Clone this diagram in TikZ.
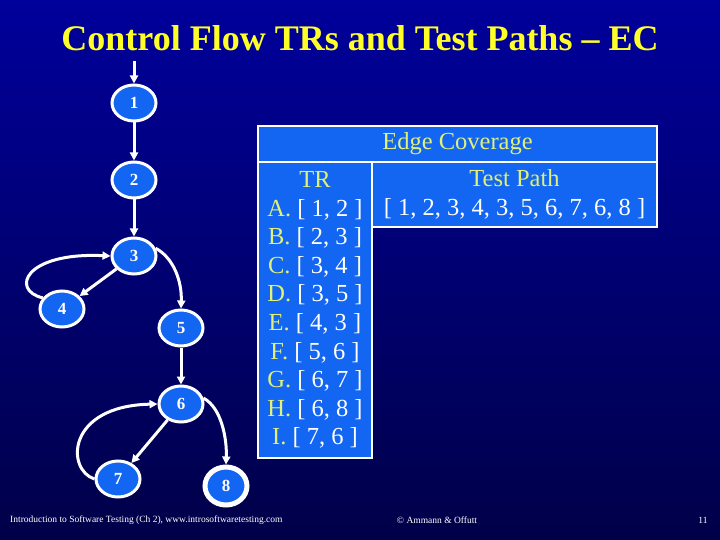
\documentclass[tikz,border=0pt]{standalone}
\usepackage{fontspec}
\setmainfont{Liberation Serif}
\usetikzlibrary{shapes.geometric,arrows.meta}
\definecolor{slidetop}{RGB}{0,0,155}
\definecolor{slidebot}{RGB}{0,0,72}
\definecolor{nodeblue}{RGB}{18,102,242}
\definecolor{titleyellow}{RGB}{255,255,40}
\definecolor{lblyellow}{RGB}{224,240,120}
\begin{document}
\begin{tikzpicture}[x=1pt, y=-1pt,
  vert/.style={ellipse, draw=white, line width=3pt, fill=nodeblue, text=white,
    minimum width=44pt, minimum height=36pt, inner sep=0pt, font=\fontsize{17}{17}\selectfont\bfseries},
  final/.style={vert, line width=5pt, minimum width=42pt, minimum height=38pt},
  edge/.style={white, line width=3pt, -{Triangle[length=8pt,width=8pt]}},
  cell/.style={rectangle, draw=white, line width=2.5pt, fill=nodeblue, text=white, inner sep=0pt,
    align=center, font=\fontsize{24.5}{28.6}\selectfont},
  foot/.style={text=white, inner sep=0pt, font=\fontsize{9.5}{9.5}\selectfont}]
\useasboundingbox (0,0) rectangle (720,540);
\shade[top color=slidetop, bottom color=slidebot] (0,0) rectangle (720,540);
\node[text=titleyellow, font=\fontsize{36}{36}\selectfont\bfseries] (title) at (360,38) {Control Flow TRs and Test Paths -- EC};
\node[vert] (n1) at (134,103) {1};
\node[vert] (n2) at (134,180) {2};
\node[vert] (n3) at (134,256) {3};
\node[vert] (n4) at (62,309) {4};
\node[vert] (n5) at (181,328) {5};
\node[vert] (n6) at (181,404) {6};
\node[vert] (n7) at (118,479) {7};
\node[final] (n8) at (226,486) {8};
\coordinate (start) at (134,61);
\draw[edge] (start) -- (n1);
\draw[edge] (n1) -- (n2);
\draw[edge] (n2) -- (n3);
\draw[edge] (n3) -- (n4);
\draw[edge] (n4.150) .. controls (10,290) and (25,252) .. (n3.west);
\draw[edge] (n3.20) .. controls (174,258) and (182,282) .. (n5.north);
\draw[edge] (n5) -- (n6);
\draw[edge] (n6) -- (n7);
\draw[edge] (n7.west) .. controls (66,470) and (66,406) .. (n6.west);
\draw[edge] (n6.15) .. controls (222,408) and (227,440) .. (n8.north);
\node[cell, minimum width=399pt, minimum height=36pt, text=lblyellow] (ec) at (457.5,144) {Edge Coverage};
\node[cell, minimum width=114pt, minimum height=296pt] (tr) at (315,310) {%
  \textcolor{lblyellow}{TR}\\
  \textcolor{lblyellow}{A.} [ 1, 2 ]\\
  \textcolor{lblyellow}{B.} [ 2, 3 ]\\
  \textcolor{lblyellow}{C.} [ 3, 4 ]\\
  \textcolor{lblyellow}{D.} [ 3, 5 ]\\
  \textcolor{lblyellow}{E.} [ 4, 3 ]\\
  \textcolor{lblyellow}{F.} [ 5, 6 ]\\
  \textcolor{lblyellow}{G.} [ 6, 7 ]\\
  \textcolor{lblyellow}{H.} [ 6, 8 ]\\
  \textcolor{lblyellow}{I.} [ 7, 6 ]};
\node[cell, minimum width=285pt, minimum height=65pt] (tp) at (514.5,194.5) {%
  \textcolor{lblyellow}{Test Path}\\
  {[} 1, 2, 3, 4, 3, 5, 6, 7, 6, 8 ]};
\node[foot, anchor=west] (src) at (10,520) {Introduction to Software Testing (Ch 2), www.introsoftwaretesting.com};
\node[foot] (auth) at (437,520) {© Ammann \& Offutt};
\node[foot] (page) at (703,520) {11};
\end{tikzpicture}
\end{document}
